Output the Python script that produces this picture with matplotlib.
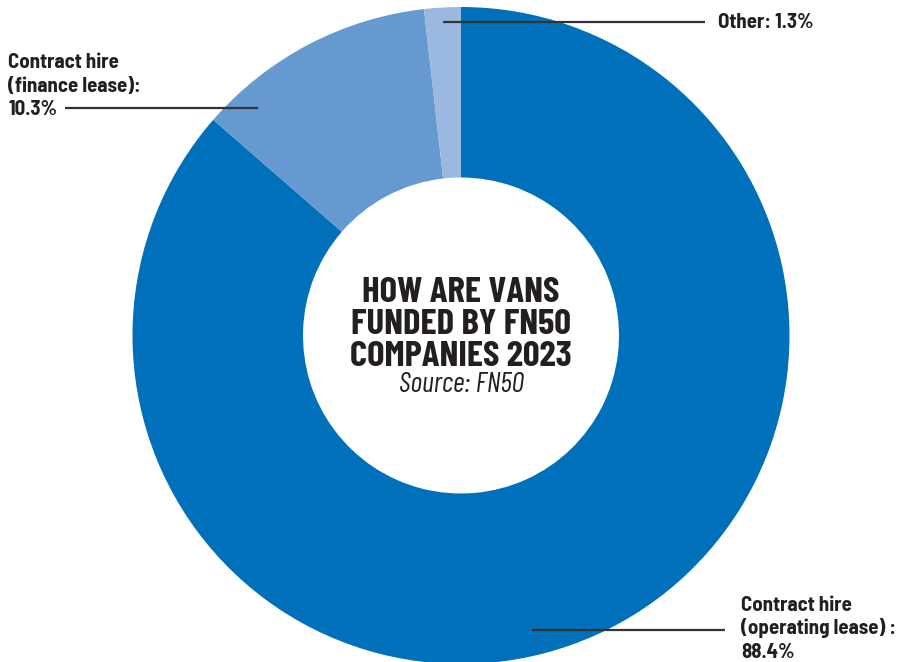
import matplotlib
matplotlib.use("Agg")
import matplotlib.pyplot as plt
from matplotlib import font_manager

# Data
categories = ["Contract hire\n(operating lease) :", "Contract hire\n(finance lease):", "Other:"]
label_values = [88.4, 10.3, 1.3]          # printed percentages
slice_shares = [86.4, 11.8, 1.8]          # slice sizes as drawn in the picture
colors = ["#0070BA", "#6699D0", "#9BB8E0"]

title_lines = ["HOW ARE VANS", "FUNDED BY FN50", "COMPANIES 2023"]
source_text = "Source: FN50"

names = {f.name for f in font_manager.fontManager.ttflist}
def pick(*cands):
    for c in cands:
        if c in names:
            return c
    return "DejaVu Sans"
title_font = pick("Barlow Condensed", "Asap Condensed")
label_font = pick("Barlow Semi Condensed", "Barlow Condensed", "Asap Condensed")

W, H = 897, 662
fig = plt.figure(figsize=(W / 100, H / 100), dpi=100)
ax = fig.add_axes([0, 0, 1, 1])

cx, cy, R, r_in = 461, H - 335.5, 328.5, 158
ax.pie(slice_shares, colors=colors, startangle=90, counterclock=False,
       center=(cx, cy), radius=R, wedgeprops=dict(width=R - r_in, linewidth=0),
       frame=True)
ax.set_xlim(0, W)
ax.set_ylim(0, H)
ax.set_aspect("equal")
ax.axis("off")

ink = "#231F20"
# Title in the hole
for i, line in enumerate(title_lines):
    ax.text(cx, H - (302 + 32 * i), line, ha="center", va="baseline",
            fontsize=26.5, fontweight="bold", family=title_font, color=ink)
ax.text(cx, H - 392, source_text, ha="center", va="baseline", fontsize=20.5,
        style="italic", fontweight="normal", family=title_font, color=ink)

lab_kw = dict(fontsize=15, fontweight="bold", family=label_font, color=ink)

def multiline(x, y0, lines, step=24):
    for i, ln in enumerate(lines):
        ax.text(x, H - (y0 + step * i), ln, ha="left", va="baseline", **lab_kw)

line_kw = dict(color="#333333", lw=1.6, solid_capstyle="butt")

# Operating lease label
multiline(741, 611, categories[0].split("\n") + [f"{label_values[0]}%"], step=23.5)
ax.plot([532, 725], [H - 630, H - 630], **line_kw)

# Finance lease label
multiline(8, 68, categories[1].split("\n") + [f"{label_values[1]}%"], step=23.5)
ax.plot([65, 258], [H - 108, H - 108], **line_kw)

# Other label
multiline(718, 28, [f"{categories[2]} {label_values[2]}%"])
ax.plot([443, 705], [H - 22, H - 22], **line_kw)

fig.savefig("out.png", dpi=100)
